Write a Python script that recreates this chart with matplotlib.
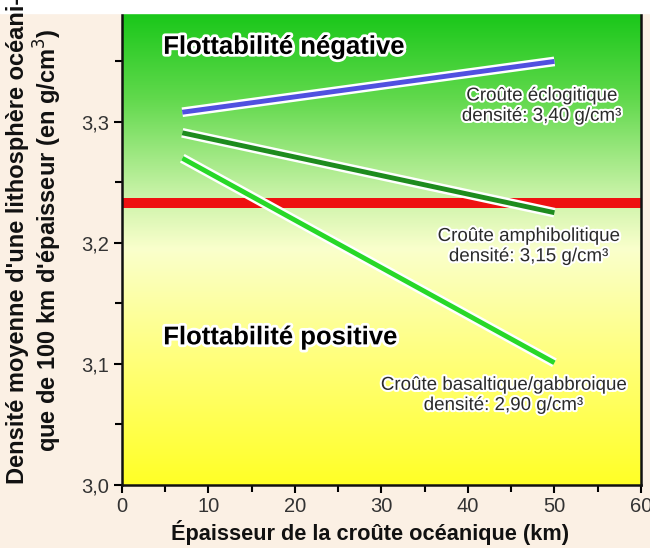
import numpy as np
import matplotlib
matplotlib.use("Agg")
import matplotlib.pyplot as plt
import matplotlib.patheffects as pe
from matplotlib.colors import LinearSegmentedColormap

plt.rcParams['font.family'] = ['Liberation Sans', 'DejaVu Sans']

# Data
thickness = [7, 50]
eclogite = [3.308, 3.350]
amphibolite = [3.291, 3.225]
basalt = [3.270, 3.101]
neutral_density = 3.233
x_ticks = [0, 10, 20, 30, 40, 50, 60]
y_ticks = [3.0, 3.1, 3.2, 3.3]
y_ticklabels = ["3,0", "3,1", "3,2", "3,3"]

W, H = 650, 548
fig = plt.figure(figsize=(W/100, H/100), dpi=100, facecolor='#FBF0E4')
ax = fig.add_axes([121.7/W, (H-485)/H, (641-121.7)/W, (485-13)/H])
ax.set_xlim(0, 60)
ax.set_ylim(3.0, 3.39)

# gradient background
cmap = LinearSegmentedColormap.from_list('g', [
    (0.0, (1.0, 1.0, 0.15)),
    (0.28, (1.0, 1.0, 0.50)),
    (0.50, (0.98, 1.0, 0.80)),
    (0.62, (0.78, 0.95, 0.65)),
    (0.82, (0.38, 0.85, 0.30)),
    (1.0, (0.10, 0.78, 0.10))])
grad = np.linspace(0, 1, 256).reshape(-1, 1)
ax.imshow(grad, aspect='auto', cmap=cmap, origin='lower',
          extent=[0, 60, 3.0, 3.39], zorder=0)

ax.axhspan(neutral_density - 0.0045, neutral_density + 0.0045,
           color='#EE1111', zorder=1, lw=0)

outline = [pe.Stroke(linewidth=7, foreground='white'), pe.Normal()]
ax.plot(thickness, eclogite, color='#5050E0', lw=3.5, solid_capstyle='butt',
        path_effects=outline, zorder=3)
ax.plot(thickness, amphibolite, color='#1E8C1E', lw=3.5, solid_capstyle='butt',
        path_effects=outline, zorder=3)
ax.plot(thickness, basalt, color='#28D828', lw=3.5, solid_capstyle='butt',
        path_effects=outline, zorder=3)

halo = [pe.withStroke(linewidth=4, foreground='white')]
ax.text(4.8, 3.362, "Flottabilité négative", fontsize=18.5, fontweight='bold',
        va='center', ha='left', path_effects=halo, zorder=4)
ax.text(4.8, 3.122, "Flottabilité positive", fontsize=18.5, fontweight='bold',
        va='center', ha='left', path_effects=halo, zorder=4)

lab_halo = [pe.withStroke(linewidth=3, foreground='white')]
kw = dict(fontsize=13.5, ha='center', va='center', color='#2A2A2A',
          path_effects=lab_halo, linespacing=1.25, zorder=4)
ax.text(48.5, 3.313, "Croûte éclogitique\ndensité: 3,40 g/cm³", **kw)
ax.text(47.0, 3.197, "Croûte amphibolitique\ndensité: 3,15 g/cm³", **kw)
ax.text(44.1, 3.074, "Croûte basaltique/gabbroique\ndensité: 2,90 g/cm³", **kw)

ax.set_xticks(x_ticks)
ax.set_xticks(np.arange(5, 60, 10), minor=True)
ax.set_yticks(y_ticks)
ax.set_yticklabels(y_ticklabels)
ax.set_yticks([3.05, 3.15, 3.25, 3.35], minor=True)
ax.tick_params(which='major', direction='out', length=6, width=1.5,
               labelsize=14.5, labelcolor='#333333', pad=3)
ax.tick_params(which='minor', direction='out', length=5, width=1.5)
for s in ['left', 'bottom', 'right']:
    ax.spines[s].set_linewidth(1.8)
    ax.spines[s].set_color('#111111')
ax.spines['top'].set_visible(False)

ax.set_xlabel("Épaisseur de la croûte océanique (km)", fontsize=15.7,
              fontweight='bold', color='#111111', labelpad=2)
ax.xaxis.set_label_coords(0.479, -0.075)

# white strip at top
fig.patches.append(plt.Rectangle((0, (H-13)/H), 1, 13/H, transform=fig.transFigure,
                                 color='white', zorder=0))

fig.text(35/W, (H-240)/H,
         "Densité moyenne d'une lithosphère océani-\nque de 100 km d'épaisseur (en g/cm$^3$)",
         rotation=90, fontsize=17, fontweight='bold', color='#111111',
         ha='center', va='center', multialignment='center', linespacing=1.1)

fig.savefig("out.png", dpi=100, facecolor=fig.get_facecolor())
